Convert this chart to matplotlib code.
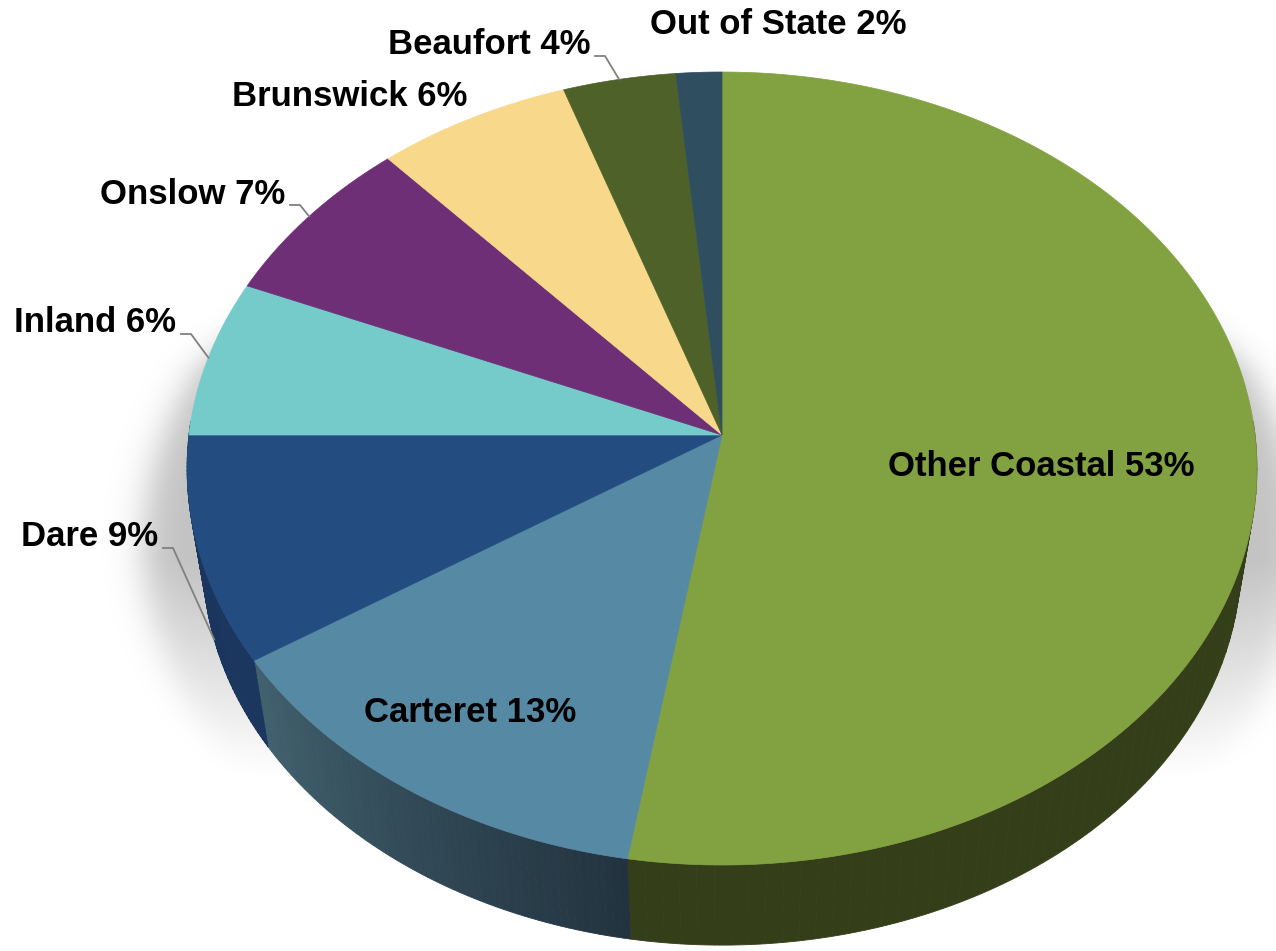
import numpy as np
import matplotlib.pyplot as plt
from matplotlib.patches import Polygon
from matplotlib.colors import to_rgb

plt.rcParams['font.family'] = ['Liberation Sans', 'DejaVu Sans']

# data (clockwise from 12 o'clock)
regions = ['Other Coastal', 'Carteret', 'Dare', 'Inland', 'Onslow',
           'Brunswick', 'Beaufort', 'Out of State']
shares = [52.6, 13.2, 9.2, 6.4, 7.0, 6.4, 3.7, 1.5]
top_colors = ['#82a141', '#5689a3', '#234d80', '#74cbc9', '#6e2f77',
              '#f8d98b', '#4e6128', '#2f4e5f']
side_colors = [('#343f1a', '#343f1a'), ('#42616f', '#22333f'),
               ('#1b365e', '#1b365e'), ('#3a6665', '#3a6665'),
               ('#37173c', '#37173c'), ('#7c6d45', '#7c6d45'),
               ('#273114', '#273114'), ('#18272f', '#18272f')]

# label layout: (x, y, ha, leader)
label_pos = [(1041, 467, 'center', False), (470, 712, 'center', False),
             (158, 537, 'right', True), (176, 323, 'right', True),
             (285, 194, 'right', True), (467, 97, 'right', False),
             (590, 45, 'right', True), (778, 24, 'center', False)]

# pie geometry in pixels
W, H = 1276, 951
CX, CY, R = 722, 435, 533
S, K = 0.7386, 0.0845   # tilt squash and perspective
F, DEPTH = 0.97, 93


def rim(theta, bottom=False):
    t = np.radians(theta)
    x, y = np.cos(t), np.sin(t)
    d = 1 + K * y
    px, py = R * x / d, -R * S * y / d
    if bottom:
        return CX + F * px, CY + F * py + DEPTH
    return CX + px, CY + py


fig = plt.figure(figsize=(W / 100, H / 100), dpi=100)
ax = fig.add_axes([0, 0, 1, 1])

# soft shadow behind the pie
Y, X = np.mgrid[0:H, 0:W]
q = np.sqrt(((X - 722) / 578) ** 2 + ((Y - 545) / 420) ** 2)
alpha = 0.24 / (1 + np.exp((q - 1) / 0.018))
alpha *= np.clip((780 - Y) / 220, 0, 1) * np.clip((Y - 300) / 70, 0, 1)
shadow = np.zeros((H, W, 4))
shadow[..., 3] = alpha
ax.imshow(shadow, extent=(0, W, H, 0), zorder=0, interpolation='bilinear')

cum = np.concatenate([[0], np.cumsum(shares)]) / np.sum(shares) * 360
t1s = 90 - cum[:-1]
t2s = 90 - cum[1:]

# side walls (front half only)
for t1, t2, (cl, cr) in zip(t1s, t2s, side_colors):
    lo, hi = max(t2, -182), min(t1, 2)
    if lo >= hi:
        continue
    edges = np.linspace(lo, hi, 60)
    c0, c1 = np.array(to_rgb(cl)), np.array(to_rgb(cr))
    for a, b in zip(edges[:-1], edges[1:]):
        ta = np.linspace(a, b, 4)
        top = np.array([rim(t) for t in ta])
        bot = np.array([rim(t, True) for t in ta[::-1]])
        frac = ((a + b) / 2 - lo) / (hi - lo)
        col = c0 * (1 - frac) + c1 * frac
        ax.add_patch(Polygon(np.vstack([top, bot]), closed=True,
                             facecolor=col, edgecolor=col, lw=0.6, zorder=2))

# top surface
for t1, t2, col in zip(t1s, t2s, top_colors):
    ts = np.linspace(t1, t2, 200)
    pts = np.vstack([[CX, CY], [rim(t) for t in ts]])
    ax.add_patch(Polygon(pts, closed=True, facecolor=col, edgecolor=col,
                         lw=0.5, zorder=3))

# labels
for name, v, t1, t2, (lx, ly, ha, leader) in zip(regions, shares, t1s, t2s, label_pos):
    ax.text(lx, ly, f'{name} {v:.0f}%', ha=ha, va='center', fontsize=25,
            fontweight='bold', color='black', zorder=5)
    if leader:
        mid = (t1 + t2) / 2
        ex, ey = rim(mid, bottom=np.sin(np.radians(mid)) < 0)
        ax.plot([lx + 5, lx + 15, ex], [ly + 11, ly + 11, ey],
                color='#808080', lw=1.3, zorder=4)

ax.set_xlim(0, W)
ax.set_ylim(H, 0)
ax.set_aspect('auto')
ax.axis('off')
fig.savefig('out.png', dpi=100)
